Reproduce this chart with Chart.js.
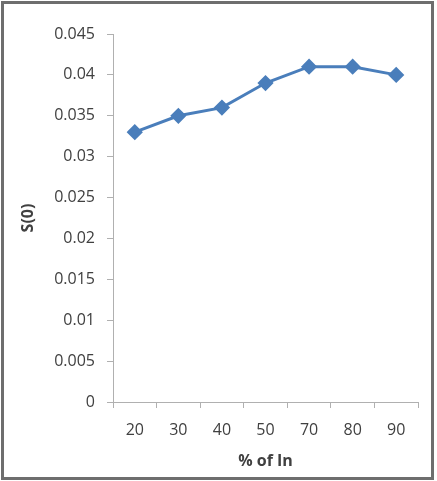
<!DOCTYPE html>
<html>
<head>
<meta charset="utf-8">
<script src="https://cdn.jsdelivr.net/npm/chart.js@4"></script>
<style>
  html, body { margin: 0; padding: 0; background: #fff; }
  #wrap { position: relative; width: 437px; height: 481px; }
</style>
</head>
<body>
<div id="wrap"><canvas id="chart" width="437" height="481"></canvas></div>
<script>
// Données du graphique
const categories = ['20', '30', '40', '50', '70', '80', '90'];
const s0Values = [0.033, 0.035, 0.036, 0.039, 0.041, 0.041, 0.040];
const yTicks = [0, 0.005, 0.01, 0.015, 0.02, 0.025, 0.03, 0.035, 0.04, 0.045];

const textColor = '#404040';
const axisColor = '#b0b0b0';
const fontFamily = '"Open Sans", sans-serif';

// Cadre gris autour du graphique
const framePlugin = {
  id: 'frame',
  afterDraw(chart) {
    const ctx = chart.ctx;
    ctx.save();
    ctx.strokeStyle = '#6e6e6e';
    ctx.lineWidth = 3;
    ctx.strokeRect(2.5, 2.5, 430, 476);
    ctx.restore();
  }
};

const ctx = document.getElementById('chart').getContext('2d');
new Chart(ctx, {
  type: 'line',
  data: {
    labels: categories,
    datasets: [{
      label: 'S(0)',
      data: s0Values,
      borderColor: '#4a7ebb',
      backgroundColor: '#4a7ebb',
      borderWidth: 3,
      pointStyle: 'rectRot',
      pointRadius: 6,
      tension: 0
    }]
  },
  options: {
    responsive: false,
    animation: false,
    layout: { padding: { left: 5, top: 34, right: 19, bottom: 5 } },
    plugins: {
      legend: { display: false },
      tooltip: { enabled: false }
    },
    scales: {
      x: {
        offset: true,
        grid: { offset: true, drawOnChartArea: false, color: axisColor, tickLength: 6 },
        border: { color: axisColor },
        ticks: { color: textColor, font: { family: fontFamily, size: 16 }, padding: 13, maxRotation: 0 },
        title: {
          display: true, text: '% of In', color: textColor,
          font: { family: fontFamily, size: 16, weight: 'bold' },
          padding: { top: 0, bottom: 5 }
        },
        afterFit(scale) { scale.height = 74; }
      },
      y: {
        min: 0,
        max: 0.045,
        grid: { drawOnChartArea: false, color: axisColor, tickLength: 6 },
        border: { color: axisColor },
        afterBuildTicks(scale) { scale.ticks = yTicks.map(v => ({ value: v })); },
        ticks: {
          color: textColor, font: { family: fontFamily, size: 16 }, padding: 12,
          callback: v => String(v)
        },
        title: {
          display: true, text: 'S(0)', color: textColor,
          font: { family: fontFamily, size: 16, weight: 'bold' },
          padding: { top: 14, bottom: 0 }
        },
        afterFit(scale) { scale.width = 108; }
      }
    }
  },
  plugins: [framePlugin]
});
</script>
</body>
</html>
